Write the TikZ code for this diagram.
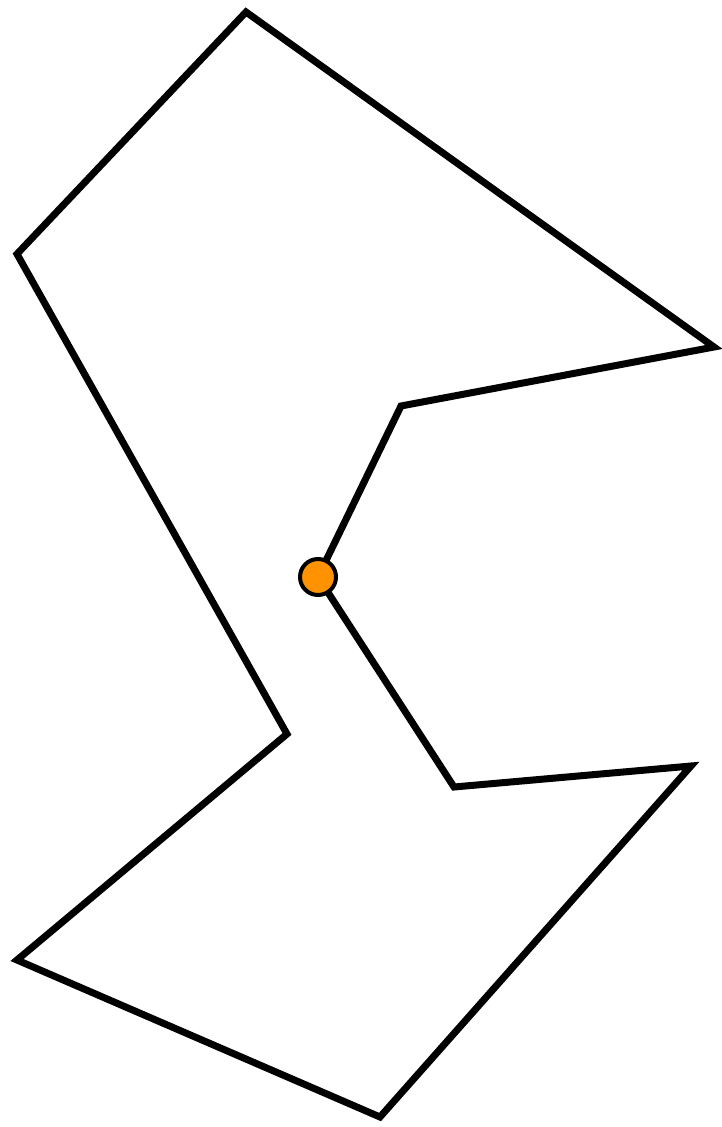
\documentclass[tikz,border=0pt]{standalone}
\usepackage{tikz}
\definecolor{dotorange}{HTML}{FF9200}
\tikzset{outline/.style={draw=black,line width=7pt,line join=miter},
  dotnode/.style={circle,fill=dotorange,draw=black,line width=4pt,minimum size=36pt,inner sep=0pt}}
\begin{document}
\begin{tikzpicture}[x=1pt,y=-1pt]
\useasboundingbox (0,0) rectangle (721,1127);
\coordinate (v1) at (246,12);
\coordinate (v2) at (714,347);
\coordinate (v3) at (401,406);
\coordinate (v4) at (318,577);
\coordinate (v5) at (454,787);
\coordinate (v6) at (691,766);
\coordinate (v7) at (380,1117);
\coordinate (v8) at (17,960);
\coordinate (v9) at (287,734);
\coordinate (v10) at (17,254);
\draw[outline] (v1) -- (v2) -- (v3) -- (v4) -- (v5) -- (v6) -- (v7) -- (v8) -- (v9) -- (v10) -- cycle;
\node[dotnode] (dot) at (v4) {};
\end{tikzpicture}
\end{document}
